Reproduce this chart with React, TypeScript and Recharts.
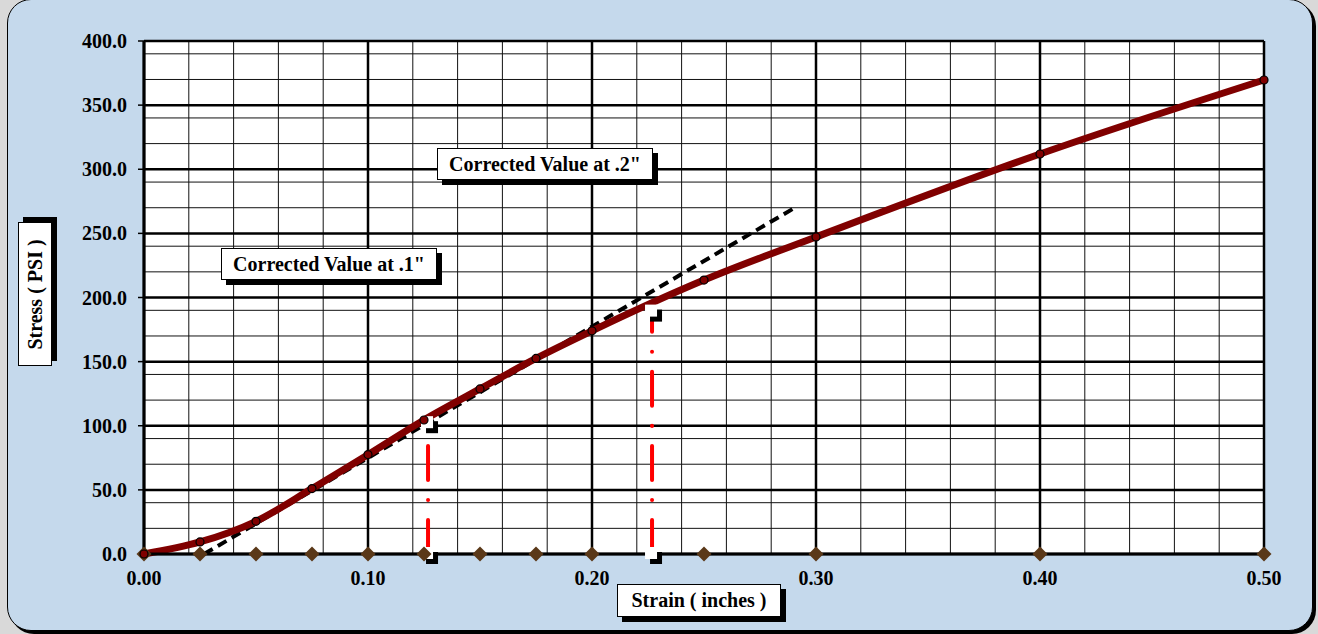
import { CartesianGrid, Line, LineChart, XAxis, YAxis } from "recharts";

// strain readings (inches) and stress (psi)
const strain = [0, 0.025, 0.05, 0.075, 0.1, 0.125, 0.15, 0.175, 0.2, 0.25, 0.3, 0.4, 0.5];
const stress = [0, 9.4, 25.5, 51, 77.5, 104.5, 128.7, 152.5, 174, 213.6, 247.2, 311.9, 369.6];

// tangent line used for the zero correction
const tangentX = [0.0268, 0.2915];
const tangentY = [0, 271];

// corrected values at .1" and .2"
const correctedX = [0.1268, 0.2268];
const correctedY = [102, 189];

const xTicks = [0, 0.1, 0.2, 0.3, 0.4, 0.5];
const yTicks = [0, 50, 100, 150, 200, 250, 300, 350, 400];
const xMinor = [0.02, 0.04, 0.06, 0.08, 0.12, 0.14, 0.16, 0.18, 0.22, 0.24, 0.26, 0.28, 0.32, 0.34, 0.36, 0.38, 0.42, 0.44, 0.46, 0.48];
const yMinor = [10, 20, 30, 40, 60, 70, 80, 90, 110, 120, 130, 140, 160, 170, 180, 190, 210, 220, 230, 240, 260, 270, 280, 290, 310, 320, 330, 340, 360, 370, 380, 390];

const curveData = strain.map((x, i) => ({ x, y: stress[i] }));
const zeroData = strain.map((x) => ({ x, y: 0 }));
const tangentData = tangentX.map((x, i) => ({ x, y: tangentY[i] }));
const corr1 = [
  { x: correctedX[0], y: 0 },
  { x: correctedX[0], y: correctedY[0] },
];
const corr2 = [
  { x: correctedX[1], y: 0 },
  { x: correctedX[1], y: correctedY[1] },
];

const font = "'Liberation Serif', 'Times New Roman', serif";

const Diamond = (props: any) => {
  const { cx, cy, index } = props;
  const s = 7.5;
  return (
    <polygon
      key={`dm-${index}`}
      points={`${cx},${cy - s} ${cx + s},${cy} ${cx},${cy + s} ${cx - s},${cy}`}
      fill="#5a3818"
    />
  );
};

const Square = (props: any) => {
  const { cx, cy, index } = props;
  return (
    <g key={`sq-${index}`}>
      <rect x={cx - 2} y={cy - 2} width={12} height={12} fill="#000" />
      <rect x={cx - 7} y={cy - 7} width={12} height={12} fill="#fff" />
    </g>
  );
};

const boxStyle: any = {
  position: "absolute",
  background: "#fff",
  border: "1px solid #000",
  boxShadow: "5px 5px 0 #000",
  fontFamily: font,
  fontWeight: "bold",
  fontSize: 20,
  color: "#000",
  whiteSpace: "nowrap",
  display: "flex",
  alignItems: "center",
  justifyContent: "center",
  boxSizing: "border-box",
};

export default function App() {
  return (
    <div
      style={{
        position: "absolute",
        left: 0,
        top: 0,
        width: 1318,
        height: 634,
        background: "#d9d9d9",
        overflow: "hidden",
      }}
    >
      <div
        style={{
          position: "absolute",
          left: 7,
          top: -1,
          width: 1306,
          height: 632,
          background: "#c5d9ec",
          border: "1px solid #000",
          boxShadow: "3px 3px 0 #000",
          borderRadius: 24,
          boxSizing: "border-box",
        }}
      />
      <div style={{ position: "absolute", left: 0, top: 0 }}>
        <LineChart
          width={1318}
          height={634}
          margin={{ top: 41, right: 54, left: 84, bottom: 50 }}
        >
          <CartesianGrid
            fill="#fff"
            stroke="#111"
            strokeWidth={1}
            verticalValues={xMinor}
            horizontalValues={yMinor}
          />
          <CartesianGrid
            stroke="#000"
            strokeWidth={2.5}
            verticalValues={xTicks}
            horizontalValues={yTicks}
          />
          <XAxis
            type="number"
            dataKey="x"
            domain={[0, 0.5]}
            ticks={xTicks}
            tickFormatter={(v: number) => v.toFixed(2)}
            tickLine={false}
            axisLine={{ stroke: "#000", strokeWidth: 3 }}
            tickSize={0}
            tickMargin={17}
            height={30}
            tick={{ fontFamily: font, fontWeight: "bold", fontSize: 20, fill: "#000" }}
          />
          <YAxis
            type="number"
            dataKey="y"
            domain={[0, 400]}
            ticks={yTicks}
            tickFormatter={(v: number) => v.toFixed(1)}
            tickLine={{ stroke: "#000", strokeWidth: 1.5 }}
            axisLine={{ stroke: "#000", strokeWidth: 3 }}
            tickSize={6}
            tickMargin={11}
            width={60}
            tick={{ fontFamily: font, fontWeight: "bold", fontSize: 20, fill: "#000" }}
          />
          <Line
            data={tangentData}
            dataKey="y"
            type="linear"
            stroke="#000"
            strokeWidth={4}
            strokeDasharray="10 6"
            dot={false}
            activeDot={false}
            isAnimationActive={false}
          />
          <Line
            data={corr1}
            dataKey="y"
            type="linear"
            stroke="#ff0000"
            strokeWidth={4}
            strokeLinecap="round"
            strokeDasharray="34 20 0.1 20"
            dot={Square}
            activeDot={false}
            isAnimationActive={false}
          />
          <Line
            data={corr2}
            dataKey="y"
            type="linear"
            stroke="#ff0000"
            strokeWidth={4}
            strokeLinecap="round"
            strokeDasharray="34 20 0.1 20"
            dot={Square}
            activeDot={false}
            isAnimationActive={false}
          />
          <Line
            data={zeroData}
            dataKey="y"
            stroke="none"
            dot={Diamond}
            activeDot={false}
            isAnimationActive={false}
          />
          <Line
            data={curveData}
            dataKey="y"
            type="monotone"
            stroke="#800000"
            strokeWidth={7}
            dot={{ r: 4, fill: "#800000", stroke: "#000", strokeWidth: 1.2 }}
            activeDot={false}
            isAnimationActive={false}
          />
        </LineChart>
      </div>
      <div style={{ ...boxStyle, left: 221, top: 248, width: 216, height: 32 }}>
        Corrected Value at .1"
      </div>
      <div style={{ ...boxStyle, left: 437, top: 148, width: 216, height: 32 }}>
        Corrected Value at .2"
      </div>
      <div style={{ ...boxStyle, left: 617, top: 584, width: 164, height: 33 }}>
        Strain ( inches )
      </div>
      <div
        style={{
          ...boxStyle,
          left: 18,
          top: 222,
          width: 34,
          height: 144,
          boxShadow: "5px -5px 0 #000",
        }}
      >
        <span style={{ transform: "rotate(-90deg)", display: "inline-block" }}>
          Stress ( PSI )
        </span>
      </div>
    </div>
  );
}
